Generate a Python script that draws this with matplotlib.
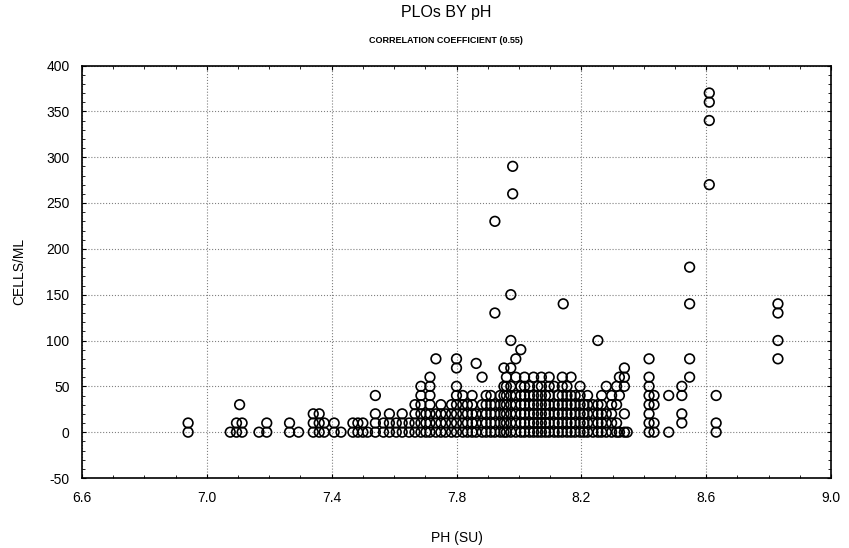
import matplotlib
matplotlib.use('Agg')
import matplotlib.pyplot as plt
from matplotlib.ticker import MultipleLocator

plt.rcParams['font.family'] = ['Liberation Sans', 'DejaVu Sans']
plt.rcParams['axes.unicode_minus'] = False

# pH of each column of points, and the cell counts read at that pH
ph_cols = [6.94, 7.075, 7.095, 7.105, 7.113, 7.167, 7.192, 7.265, 7.294,
           7.341, 7.36, 7.376, 7.408, 7.43, 7.468, 7.484, 7.50, 7.515, 7.54,
           7.566, 7.585, 7.607, 7.626, 7.648, 7.667, 7.686, 7.702, 7.715,
           7.734, 7.75, 7.765, 7.784, 7.80, 7.82, 7.835, 7.85, 7.863, 7.882,
           7.895, 7.91, 7.923, 7.94, 7.952, 7.96, 7.974, 7.98, 7.99, 8.006,
           8.018, 8.034, 8.047, 8.06, 8.072, 8.085, 8.097, 8.113, 8.126,
           8.139, 8.142, 8.154, 8.167, 8.18, 8.196, 8.208, 8.22, 8.237,
           8.253, 8.265, 8.28, 8.297, 8.313, 8.322, 8.338, 8.347,
           8.417, 8.433, 8.48, 8.522, 8.547, 8.61, 8.632, 8.83]
cells_cols = [
    [0, 10], [0], [0, 10], [30], [0, 10], [0], [0, 10], [0, 10], [0],
    [0, 10, 20], [0, 10, 20], [0, 10], [0, 10], [0], [0, 10], [0, 10], [0, 10], [0], [0, 10, 20, 40],
    [0, 10], [0, 10, 20], [0, 10], [0, 10, 20], [0, 10], [0, 10, 20, 30],
    [0, 10, 20, 30, 40, 50], [0, 10, 20], [0, 10, 20, 30, 40, 50, 60],
    [0, 10, 20, 80], [0, 10, 20, 30], [0, 10, 20], [0, 10, 20, 30],
    [0, 10, 20, 30, 40, 50, 70, 80], [0, 10, 20, 30, 40], [0, 10, 20, 30],
    [0, 10, 20, 30, 40], [0, 10, 20, 75], [0, 10, 20, 30, 60],
    [0, 10, 20, 30, 40], [0, 10, 20, 30, 40], [0, 10, 20, 30, 130, 230],
    [0, 10, 20, 30, 40], [0, 10, 20, 30, 40, 50, 70], [0, 10, 20, 30, 40, 50, 60],
    [0, 10, 20, 30, 40, 50, 70, 100, 150], [260, 290], [0, 10, 20, 30, 40, 60, 80],
    [0, 10, 20, 30, 40, 50, 90], [0, 10, 20, 30, 40, 50, 60], [0, 10, 20, 30, 40, 50],
    [0, 10, 20, 30, 40, 60], [0, 10, 20, 30, 40, 50], [0, 10, 20, 30, 40, 50, 60],
    [0, 10, 20, 30, 40], [0, 10, 20, 30, 40, 50, 60], [0, 10, 20, 30, 50],
    [0, 10, 20, 30, 40], [0, 10, 20, 30, 40, 50, 60], [140], [0, 10, 20, 30, 40, 50],
    [0, 10, 20, 30, 40, 60], [0, 10, 20, 30, 40], [0, 10, 20, 30, 40, 50],
    [0, 10, 20, 30], [0, 10, 20, 30, 40], [0, 10, 20, 30], [0, 10, 20, 30, 100],
    [0, 10, 20, 30, 40], [0, 10, 20, 50], [0, 10, 20, 30, 40], [0, 10, 30, 50],
    [0, 40, 60], [0, 20, 50, 60, 70], [0],
    [0, 10, 20, 30, 40, 50, 60, 80], [0, 10, 30, 40], [0, 40], [10, 20, 40, 50],
    [60, 80, 140, 180], [270, 340, 360, 370], [0, 10, 40], [80, 100, 130, 140]]

ph = []
cells = []
for p, vals in zip(ph_cols, cells_cols):
    for v in vals:
        ph.append(p)
        cells.append(v)

fig = plt.figure(figsize=(8.49, 5.48), dpi=100)
ax = fig.add_axes([82 / 849, 70 / 548, 749 / 849, 412.5 / 548])

ax.scatter(ph, cells, s=48, facecolors='none', edgecolors='black', linewidths=1.2, zorder=3)

ax.set_xlim(6.6, 9.0)
ax.set_ylim(-50, 400)
ax.set_xticks([6.6, 7.0, 7.4, 7.8, 8.2, 8.6, 9.0])
ax.set_xticklabels(['6.6', '7.0', '7.4', '7.8', '8.2', '8.6', '9.0'])
ax.set_yticks(range(-50, 401, 50))
ax.xaxis.set_minor_locator(MultipleLocator(0.1))
ax.yaxis.set_minor_locator(MultipleLocator(10))
ax.tick_params(which='both', direction='in', top=True, right=True, labelsize=10)
ax.tick_params(which='major', length=3, pad=9)
ax.tick_params(which='minor', length=2)
ax.grid(True, which='major', linestyle=':', color='gray', linewidth=0.8)
for s in ax.spines.values():
    s.set_linewidth(1.2)

ax.set_xlabel('PH (SU)', fontsize=10, labelpad=19)
ax.set_ylabel('CELLS/ML', fontsize=10, labelpad=14)

fig.text(0.525, 0.978, 'PLOs BY pH', ha='center', va='center', fontsize=11.5)
fig.text(0.525, 0.927, 'CORRELATION COEFFICIENT (0.55)', ha='center', va='center',
         fontsize=6.5, fontweight='bold')

fig.savefig('out.png', dpi=100)
